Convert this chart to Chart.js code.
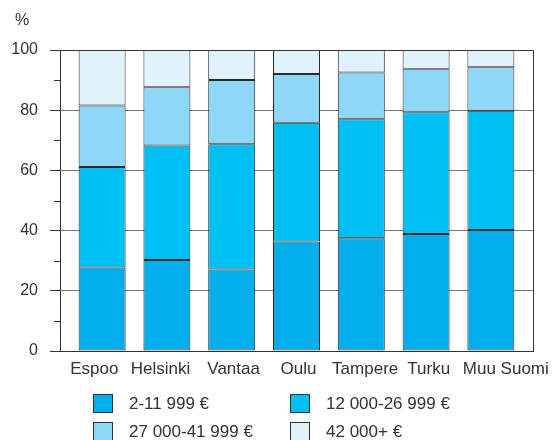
<!DOCTYPE html>
<html>
<head>
<meta charset="utf-8">
<script src="https://cdn.jsdelivr.net/npm/chart.js@4.4.1/dist/chart.umd.min.js"></script>
<style>
  html, body { margin: 0; padding: 0; background: #fff; }
  #wrap { position: relative; width: 552px; height: 440px; font-family: "Liberation Sans", Arial, sans-serif; color: #333; }
  #unit { position: absolute; left: 15px; top: 11px; font-size: 16px; }
  .leg { position: absolute; font-size: 17px; line-height: 20px; white-space: nowrap; }
  .leg span { position: absolute; left: 0; top: 0; width: 18px; height: 17px; border: 1px solid #333; }
  .leg b { font-weight: normal; position: absolute; left: 36px; top: 0; }
</style>
</head>
<body>
<div id="wrap">
  <canvas id="c" width="552" height="440"></canvas>
  <div id="unit">%</div>
</div>
<script>
const cities = ['Espoo', 'Helsinki', 'Vantaa', 'Oulu', 'Tampere', 'Turku', 'Muu Suomi'];
const bracketNames = ['2-11 999 €', '12 000-26 999 €', '27 000-41 999 €', '42 000+ €'];
const lowIncome = [27.7, 30.2, 27.1, 36.4, 37.5, 38.9, 40.2];
const midIncome = [33.4, 38.1, 41.6, 39.4, 39.5, 40.4, 39.6];
const upperIncome = [20.5, 19.3, 21.3, 16.2, 15.5, 14.3, 14.5];
const highIncome = [18.4, 12.4, 10.0, 8.0, 7.5, 6.4, 5.7];
const yTicks = [0, 20, 40, 60, 80, 100];

const colors = ['#00aeec', '#00bff3', '#8ed7f7', '#e0f3fc'];
// label nudges (in category units) so long names fit like the original
const labelShift = [-0.12, -0.1, 0.03, 0.03, 0.06, 0.04, 0.23];

const series = [lowIncome, midIncome, upperIncome, highIncome];

const frame = {
  id: 'frame',
  afterDatasetsDraw(chart) {
    const { ctx, chartArea: a, scales: { y } } = chart;
    ctx.save();
    ctx.strokeStyle = '#333';
    ctx.lineWidth = 1;
    ctx.beginPath();
    ctx.moveTo(a.left, a.top + 0.5);
    ctx.lineTo(a.right + 0.5, a.top + 0.5);
    ctx.lineTo(a.right + 0.5, a.bottom);
    for (let v = 10; v < 100; v += 20) {
      const py = Math.round(y.getPixelForValue(v)) + 0.5;
      ctx.moveTo(a.left - 6, py);
      ctx.lineTo(a.left, py);
    }
    ctx.stroke();
    ctx.restore();
  }
};

new Chart(document.getElementById('c'), {
  type: 'bar',
  data: {
    datasets: series.map((vals, k) => ({
      label: bracketNames[k],
      data: vals.map((v, i) => ({ x: i, y: v })),
      backgroundColor: colors[k],
      borderColor: '#2a2a2a',
      borderWidth: 1,
      borderSkipped: false,
      categoryPercentage: 1,
      barPercentage: 0.74
    }))
  },
  options: {
    responsive: false,
    animation: false,
    events: [],
    layout: { padding: { left: 0, top: 50, right: 19, bottom: 0 } },
    plugins: { legend: { display: false }, tooltip: { enabled: false } },
    scales: {
      x: {
        type: 'linear',
        stacked: true,
        offset: false,
        min: -0.65,
        max: 6.65,
        afterFit: s => { s.height = 89; },
        afterBuildTicks: s => { s.ticks = cities.map((c, i) => ({ value: i + labelShift[i] })); },
        grid: { display: false, offset: false },
        border: { display: true, color: '#333' },
        ticks: {
          autoSkip: false,
          maxRotation: 0,
          padding: 0,
          color: '#333',
          font: { family: '"Liberation Sans", Arial, sans-serif', size: 17 },
          callback: (v, i) => cities[i]
        }
      },
      y: {
        stacked: true,
        min: 0,
        max: 100,
        afterFit: s => { s.width = 60; },
        afterBuildTicks: s => { s.ticks = yTicks.map(v => ({ value: v })); },
        grid: {
          color: c => (c.tick && c.tick.value === 100 ? '#333' : '#777'),
          tickColor: '#333',
          tickLength: 10
        },
        border: { display: true, color: '#333' },
        ticks: {
          padding: 12,
          color: '#333',
          font: { family: '"Liberation Sans", Arial, sans-serif', size: 16 }
        }
      }
    }
  },
  plugins: [frame]
});

// legend, two columns
const wrap = document.getElementById('wrap');
const legPos = [[93, 394], [290, 394], [93, 422], [290, 422]];
bracketNames.forEach((name, k) => {
  const d = document.createElement('div');
  d.className = 'leg';
  d.style.left = legPos[k][0] + 'px';
  d.style.top = legPos[k][1] + 'px';
  d.innerHTML = '<span style="background:' + colors[k] + '"></span><b>' + name + '</b>';
  wrap.appendChild(d);
});
</script>
</body>
</html>
